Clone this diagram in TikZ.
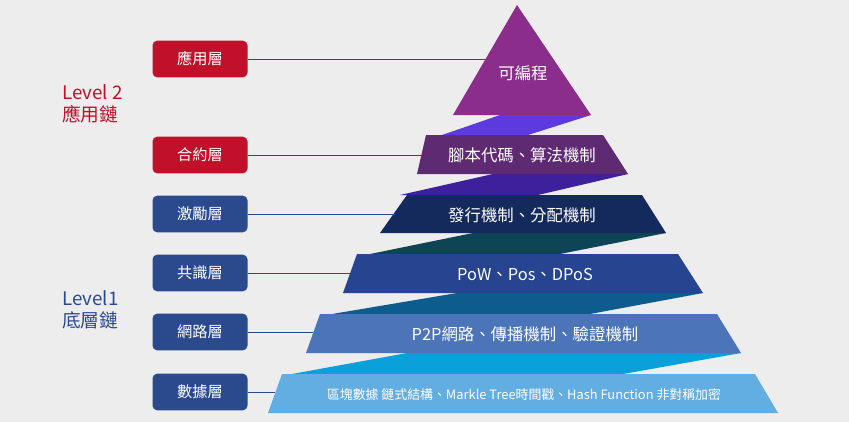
\documentclass[tikz,border=0pt]{standalone}
\usepackage{fontspec}
\setmainfont{Noto Sans CJK TC}
\usepackage{tikz}
\definecolor{lvred}{HTML}{C0102A}
\definecolor{lvblue}{HTML}{2B4A8E}
\definecolor{rib0}{HTML}{5B3BE0}
\definecolor{rib1}{HTML}{3E1F9C}
\definecolor{rib2}{HTML}{0E4556}
\definecolor{rib3}{HTML}{0E5B8E}
\definecolor{rib4}{HTML}{0AA0DA}
\definecolor{lay0}{HTML}{8B2D8A}
\definecolor{lay1}{HTML}{5E2A72}
\definecolor{lay2}{HTML}{152A5C}
\definecolor{lay3}{HTML}{26448F}
\definecolor{lay4}{HTML}{4C74B8}
\definecolor{lay5}{HTML}{62AEE2}
\begin{document}
\begin{tikzpicture}[x=0.03cm,y=-0.03cm]
\tikzset{layerbox/.style={fill=#1, rounded corners=4pt, minimum width=2.85cm, minimum height=1.1cm, inner sep=0pt, text=white, font=\fontsize{13}{15}\selectfont},
  bandtext/.style={text=white, inner sep=0pt, font=\fontsize{14}{16}\selectfont},
  leveltext/.style={text=#1, align=left, inner sep=0pt, font=\fontsize{16}{19}\selectfont}}
\fill [black!7] (0,0) rectangle (849,422);
% ribbons
\fill [rib0] (500,115) -- (591,115) -- (528,135) -- (442,135) -- cycle;
\fill [rib1] (493,174) -- (628,174) -- (538,195) -- (400,195) -- cycle;
\fill [rib2] (473,233) -- (666,233) -- (560,254) -- (370,254) -- cycle;
\fill [rib3] (457,293) -- (703,293) -- (590,314) -- (332,314) -- cycle;
\fill [rib4] (407,353) -- (741,353) -- (623,374) -- (292,374) -- cycle;
% layers
\fill [lay0] (517,5) -- (591,115) -- (453,115) -- cycle;
\fill [lay1] (426,135) -- (603,135) -- (628,174) -- (417,174) -- cycle;
\fill [lay2] (407,195) -- (642,195) -- (666,233) -- (380,233) -- cycle;
\fill [lay3] (357,254) -- (678,254) -- (703,293) -- (343,293) -- cycle;
\fill [lay4] (320,314) -- (717,314) -- (741,353) -- (306,353) -- cycle;
\fill [lay5] (282,374) -- (755,374) -- (778,413) -- (268,413) -- cycle;
% layer texts
\node [bandtext] (t0) at (523,73) {可編程};
\node [bandtext] (t1) at (522,155) {腳本代碼、算法機制};
\node [bandtext] (t2) at (522,215) {發行機制、分配機制};
\node [bandtext] (t3) at (525,274) {PoW、Pos、DPoS};
\node [bandtext] (t4) at (525,334) {P2P網路、傳播機制、驗證機制};
\node [bandtext, font=\fontsize{11}{13}\selectfont] (t5) at (524,395) {區塊數據 鏈式結構、Markle Tree時間戳、Hash Function 非對稱加密};
% left boxes
\node [layerbox=lvred] (b0) at (200,59) {應用層};
\node [layerbox=lvred] (b1) at (200,155) {合約層};
\node [layerbox=lvblue] (b2) at (200,214) {激勵層};
\node [layerbox=lvblue] (b3) at (200,273) {共識層};
\node [layerbox=lvblue] (b4) at (200,332) {網路層};
\node [layerbox=lvblue] (b5) at (200,392) {數據層};
\coordinate (e0) at (486,59);
\coordinate (e1) at (422,155);
\coordinate (e2) at (395,214);
\coordinate (e3) at (350,273);
\coordinate (e4) at (313,332);
\coordinate (e5) at (275,392);
\draw [lvred, line width=0.8pt] (b0) -- (e0);
\draw [lvred, line width=0.8pt] (b1) -- (e1);
\foreach \i in {2,...,5}
  \draw [lvblue, line width=0.8pt] (b\i) -- (e\i);
% level labels
\node [leveltext=lvred, anchor=west] (lv2) at (62,104) {Level 2\\應用鏈};
\node [leveltext=lvblue, anchor=west] (lv1) at (62,310) {Level1\\底層鏈};
\end{tikzpicture}
\end{document}
